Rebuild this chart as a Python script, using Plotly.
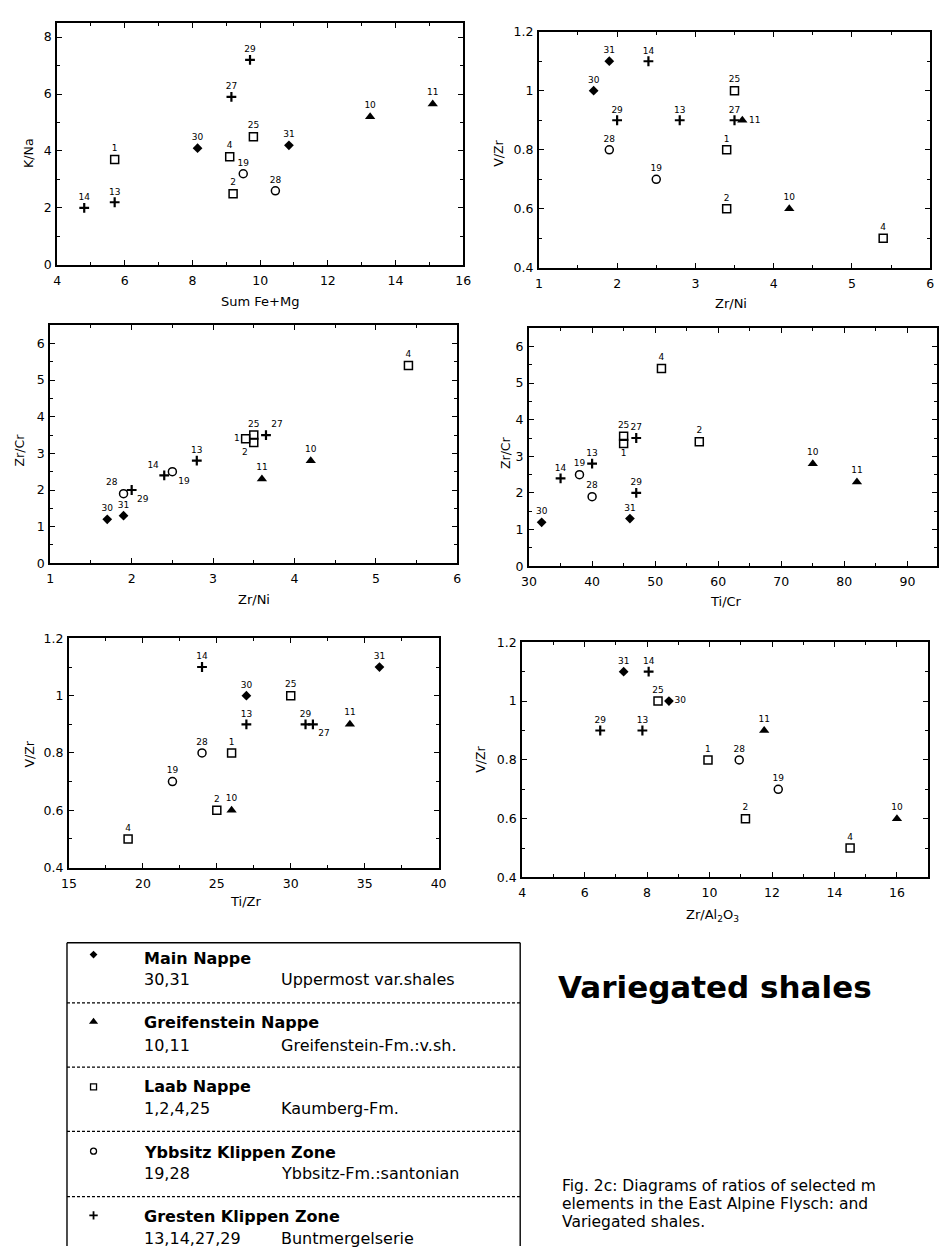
import plotly.graph_objects as go

# ---------------- data ----------------
SAMPLES = [30, 31, 10, 11, 1, 2, 4, 25, 19, 28, 13, 14, 27, 29]

fe_mg    = [8.15, 10.85, 13.25, 15.1, 5.7, 9.2, 9.1, 9.8, 9.5, 10.45, 5.7, 4.8, 9.15, 9.7]
k_na     = [4.1, 4.2, 5.2, 5.65, 3.7, 2.5, 3.8, 4.5, 3.2, 2.6, 2.2, 2.0, 5.9, 7.2]
v_zr     = [1.0, 1.1, 0.6, 0.9, 0.8, 0.6, 0.5, 1.0, 0.7, 0.8, 0.9, 1.1, 0.9, 0.9]
zr_ni_a  = [1.7, 1.9, 4.2, 3.6, 3.4, 3.4, 5.4, 3.5, 2.5, 1.9, 2.8, 2.4, 3.5, 2.0]
zr_ni_b  = [1.7, 1.9, 4.2, 3.6, 3.4, 3.5, 5.4, 3.5, 2.5, 1.9, 2.8, 2.4, 3.65, 2.0]
zr_cr_a  = [1.2, 1.3, 2.8, 2.3, 3.4, 3.3, 5.4, 3.5, 2.5, 1.9, 2.8, 2.4, 3.5, 2.0]
ti_cr    = [32, 46, 75, 82, 45, 57, 51, 45, 38, 40, 40, 35, 47, 47]
zr_cr_b  = [1.2, 1.3, 2.8, 2.3, 3.35, 3.4, 5.4, 3.55, 2.5, 1.9, 2.8, 2.4, 3.5, 2.0]
ti_zr    = [27, 36, 26, 34, 26, 25, 19, 30, 22, 24, 27, 24, 31.5, 31]
zr_al2o3 = [8.7, 7.25, 16.0, 11.75, 9.95, 11.15, 14.5, 8.35, 12.2, 10.95, 7.85, 8.05, None, 6.5]

group_names   = ["Main Nappe", "Greifenstein Nappe", "Laab Nappe", "Ybbsitz Klippen Zone", "Gresten Klippen Zone"]
group_numbers = ["30,31", "10,11", "1,2,4,25", "19,28", "13,14,27,29"]
group_units   = ["Uppermost var.shales", "Greifenstein-Fm.:v.sh.", "Kaumberg-Fm.",
                 "Ybbsitz-Fm.:santonian", "Buntmergelserie"]
group_members = [[30, 31], [10, 11], [1, 2, 4, 25], [19, 28], [13, 14, 27, 29]]

title_text = "Variegated shales"
caption_lines = ["Fig. 2c: Diagrams of ratios of selected m",
                 "elements in the East Alpine Flysch: and",
                 "Variegated shales."]

# ---------------- styling ----------------
W, H = 946, 1253
FONT = "DejaVu Sans, Liberation Sans, Arial, sans-serif"

group_marker = [
    dict(symbol="diamond", size=7.5, color="black"),
    dict(symbol="triangle-up", size=9, color="black"),
    dict(symbol="square-open", size=8, color="black", line=dict(width=1.5, color="black")),
    dict(symbol="circle-open", size=8, color="black", line=dict(width=1.5, color="black")),
    dict(symbol="cross-thin-open", size=7, color="black", line=dict(width=2.2, color="black")),
]
legend_marker = [
    dict(symbol="diamond", size=6, color="black"),
    dict(symbol="triangle-up", size=8, color="black"),
    dict(symbol="square-open", size=6, color="black", line=dict(width=1.3, color="black")),
    dict(symbol="circle-open", size=6, color="black", line=dict(width=1.3, color="black")),
    dict(symbol="cross-thin-open", size=6, color="black", line=dict(width=1.8, color="black")),
]

panels = [
    dict(x=fe_mg, y=k_na, box=(50, 463, 15, 260), xr=[4, 16], yr=[0, 8.5], xd=2, xm=1, yd=2, ym=1,
         pos={}, xt=("Sum Fe+Mg", 256, 297), yt=("K/Na", 21, 147)),
    dict(x=zr_ni_a, y=v_zr, box=(540, 938, 24, 263), xr=[1, 6], yr=[0.4, 1.2], xd=1, xm=0.5, yd=0.2, ym=0.1,
         pos={11: "middle right"}, xt=("Zr/Ni", 735, 299), yt=("V/Zr", 499, 147)),
    dict(x=zr_ni_b, y=zr_cr_a, box=(43, 457, 321, 562), xr=[1, 6], yr=[0, 6.5], xd=1, xm=0.5, yd=1, ym=0.5,
         pos={28: "top left", 29: "bottom right", 14: "top left", 19: "bottom right",
              1: "middle left", 2: "bottom left", 27: "top right"},
         xt=("Zr/Ni", 250, 599), yt=("Zr/Cr", 12, 447)),
    dict(x=ti_cr, y=zr_cr_b, box=(530, 945, 324, 565), xr=[30, 94.7], yr=[0, 6.5], xd=10, xm=5, yd=1, ym=0.5,
         pos={1: "bottom center"}, xt=("Ti/Cr", 730, 601), yt=("Zr/Cr", 506, 450)),
    dict(x=ti_zr, y=v_zr, box=(62, 438, 638, 870), xr=[15, 40], yr=[0.4, 1.2], xd=5, xm=2.5, yd=0.2, ym=0.1,
         pos={27: "bottom right"}, xt=("Ti/Zr", 242, 904), yt=("V/Zr", 22, 755)),
    dict(x=zr_al2o3, y=v_zr, box=(523, 936, 642, 880), xr=[4, 17], yr=[0.4, 1.2], xd=2, xm=1, yd=0.2, ym=0.1,
         pos={30: "middle right"}, xt=("Zr/Al<sub>2</sub>O<sub>3</sub>", 717, 918), yt=("V/Zr", 481, 760)),
]

fig = go.Figure()
layout = dict(
    width=W, height=H, margin=dict(l=0, r=0, t=0, b=0),
    paper_bgcolor="white", plot_bgcolor="rgba(0,0,0,0)",
    showlegend=False, font=dict(family=FONT, color="black"),
)

annotations = []
shapes = []

for i, p in enumerate(panels, start=1):
    sfx = "" if i == 1 else str(i)
    l, r, t, b = p["box"]
    common = dict(showline=True, linewidth=2, linecolor="black", mirror="allticks",
                  ticks="inside", ticklen=5, tickwidth=1, tickcolor="black",
                  showgrid=False, zeroline=False, tickfont=dict(size=12.5, family=FONT),
                  fixedrange=True)
    layout["xaxis" + sfx] = dict(common, domain=[l / W, r / W], range=p["xr"], dtick=p["xd"], tick0=0,
                                 anchor="y" + sfx, ticklabelstandoff=3,
                                 minor=dict(dtick=p["xm"], tick0=0, ticks="inside", ticklen=3, tickcolor="black"))
    layout["yaxis" + sfx] = dict(common, domain=[1 - b / H, 1 - t / H], range=p["yr"], dtick=p["yd"], tick0=0,
                                 anchor="x" + sfx, ticklabelstandoff=1,
                                 minor=dict(dtick=p["ym"], tick0=0, ticks="inside", ticklen=3, tickcolor="black"))
    for g, members in enumerate(group_members):
        xs, ys, txt, tp = [], [], [], []
        for s in members:
            k = SAMPLES.index(s)
            if p["x"][k] is None:
                continue
            xs.append(p["x"][k]); ys.append(p["y"][k])
            txt.append(str(s)); tp.append(p["pos"].get(s, "top center"))
        fig.add_trace(go.Scatter(x=xs, y=ys, mode="markers+text", text=txt, textposition=tp,
                                 textfont=dict(size=9, family=FONT, color="black"),
                                 marker=group_marker[g], xaxis="x" + sfx, yaxis="y" + sfx,
                                 cliponaxis=False, hoverinfo="skip"))
    tx, txx, txy = p["xt"]
    annotations.append(dict(text=tx, x=txx, y=txy, xref="x7", yref="y7", showarrow=False,
                            font=dict(size=13, family=FONT), xanchor="center", yanchor="middle"))
    ty, tyx, tyy = p["yt"]
    annotations.append(dict(text=ty, x=tyx, y=tyy, xref="x7", yref="y7", showarrow=False, textangle=-90,
                            font=dict(size=12.5, family=FONT), xanchor="center", yanchor="middle"))

# overlay pixel axis for legend box / texts
layout["xaxis7"] = dict(domain=[0, 1], range=[0, W], visible=False, fixedrange=True, anchor="y7")
layout["yaxis7"] = dict(domain=[0, 1], range=[H, 0], visible=False, fixedrange=True, anchor="x7")

# legend box
LX0, LX1, LY0 = 60, 521, 946
shapes.append(dict(type="line", xref="x7", yref="y7", x0=LX0, x1=LX1, y0=LY0, y1=LY0,
                   line=dict(color="black", width=1.6)))
shapes.append(dict(type="line", xref="x7", yref="y7", x0=LX0, x1=LX0, y0=LY0, y1=H + 10,
                   line=dict(color="black", width=1.4)))
shapes.append(dict(type="line", xref="x7", yref="y7", x0=LX1, x1=LX1, y0=LY0, y1=H + 10,
                   line=dict(color="black", width=1.4)))
for yy in [1007, 1072, 1137, 1203]:
    shapes.append(dict(type="line", xref="x7", yref="y7", x0=LX0, x1=LX1, y0=yy, y1=yy,
                       line=dict(color="black", width=1.2, dash="3px,2px")))

mark_y = [958, 1026, 1092, 1157, 1222]
head_y = [962, 1027, 1092, 1158, 1223]
sub_y = [983, 1050, 1114, 1180, 1245]
for g in range(len(group_names)):
    fig.add_trace(go.Scatter(x=[87], y=[mark_y[g]], mode="markers", marker=legend_marker[g],
                             xaxis="x7", yaxis="y7", hoverinfo="skip", cliponaxis=False))
    annotations.append(dict(text="<b>" + group_names[g] + "</b>", x=136, y=head_y[g], xref="x7", yref="y7",
                            showarrow=False, xanchor="left", yanchor="middle", font=dict(size=16, family=FONT)))
    annotations.append(dict(text=group_numbers[g], x=136, y=sub_y[g], xref="x7", yref="y7",
                            showarrow=False, xanchor="left", yanchor="middle", font=dict(size=16, family=FONT)))
    annotations.append(dict(text=group_units[g], x=276, y=sub_y[g], xref="x7", yref="y7",
                            showarrow=False, xanchor="left", yanchor="middle", font=dict(size=16, family=FONT)))

annotations.append(dict(text="<b>" + title_text + "</b>", x=557, y=991, xref="x7", yref="y7",
                        showarrow=False, xanchor="left", yanchor="middle", font=dict(size=31, family=FONT)))
for j, (line, yy) in enumerate(zip(caption_lines, [1192, 1210.5, 1229])):
    annotations.append(dict(text=line, x=561, y=yy, xref="x7", yref="y7",
                            showarrow=False, xanchor="left", yanchor="middle", font=dict(size=15.5, family=FONT)))

layout["annotations"] = annotations
layout["shapes"] = shapes
fig.update_layout(**layout)

fig.write_html("out.html", config={"displayModeBar": False, "staticPlot": True},
               post_script="document.body.style.margin='0px';")
